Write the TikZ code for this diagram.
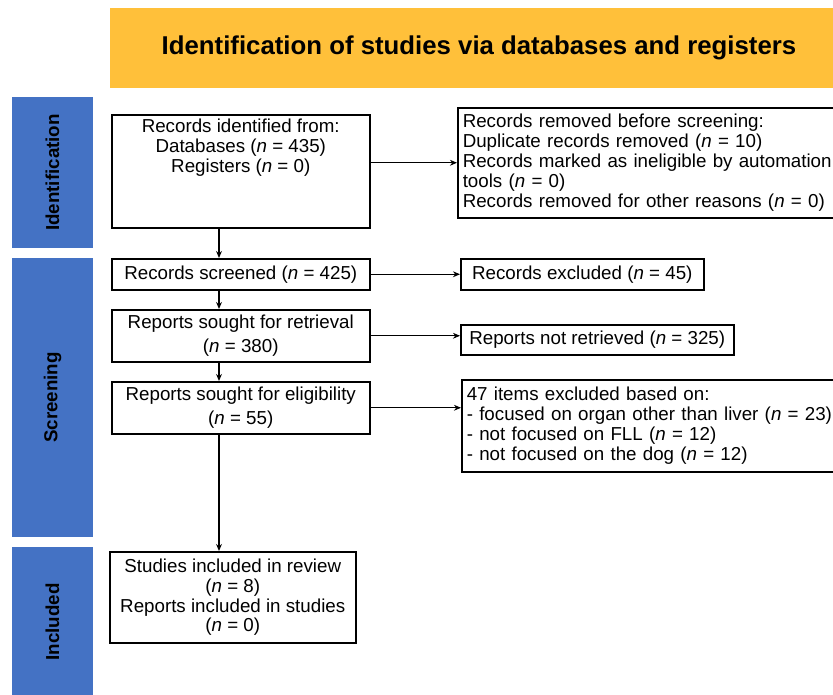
\documentclass[tikz,border=0pt]{standalone}
\usepackage{fontspec}
\setmainfont{Liberation Sans}
\usetikzlibrary{arrows.meta}
\definecolor{prismayellow}{RGB}{255, 192, 58}
\definecolor{prismablue}{RGB}{68, 114, 196}
\newlength\pxl
\setlength\pxl{0.03cm}

\begin{document}
\begin{tikzpicture}[
  x=\pxl, y=-\pxl,
  every node/.style={font=\fontsize{16}{17}\selectfont},
  box/.style={draw=black, line width=1.3pt, anchor=north west, align=center, inner sep=0pt},
  leftbox/.style={box, align=left, inner xsep=5\pxl},
  phase/.style={fill=prismablue, rotate=90, font=\fontsize{16}{17}\selectfont\bfseries, inner sep=0pt},
  banner/.style={fill=prismayellow, anchor=north west, inner sep=0pt},
  flow/.style={-{Stealth[length=6pt, width=5pt]}, line width=1pt}
]
\clip (0,0) rectangle (833,695);

% Header and phase bars
\node[banner, minimum width=735*\pxl, minimum height=80*\pxl] (head) at (110,8) {};
\node (title) at (479,48) {\fontsize{22}{24}\selectfont\bfseries Identification of studies via databases and registers};
\node[phase, minimum width=151*\pxl, minimum height=81*\pxl] (pid) at (52.5,172.5) {Identification};
\node[phase, minimum width=279*\pxl, minimum height=81*\pxl] (pscr) at (52.5,397.5) {Screening};
\node[phase, minimum width=150*\pxl, minimum height=81*\pxl] (pinc) at (52.5,622) {Included};

% Main column
\node[box, minimum width=258*\pxl, minimum height=113*\pxl] (ident) at (111,114)
  {Records identified from:\\Databases (\textit{n} = 435)\\Registers (\textit{n} = 0)\\[26pt]};
\node[box, minimum width=258*\pxl, minimum height=31*\pxl] (screen) at (111,258)
  {Records screened (\textit{n} = 425)};
\node[box, minimum width=258*\pxl, minimum height=52*\pxl] (retr) at (111,309)
  {Reports sought for retrieval\\[3pt](\textit{n} = 380)};
\node[box, minimum width=258*\pxl, minimum height=52*\pxl] (elig) at (111,381)
  {Reports sought for eligibility\\[3pt](\textit{n} = 55)};
\node[box, minimum width=246*\pxl, minimum height=91*\pxl] (incl) at (109,551)
  {Studies included in review\\(\textit{n} = 8)\\Reports included in studies\\(\textit{n} = 0)};

% Side column
\node[leftbox, text width=395*\pxl, minimum height=110*\pxl] (removed) at (457,107)
  {Records removed before screening:\\Duplicate records removed (\textit{n} = 10)\\Records marked as ineligible by automation\\tools (\textit{n} = 0)\\Records removed for other reasons (\textit{n} = 0)};
\node[box, minimum width=243*\pxl, minimum height=31*\pxl] (excl) at (460,258)
  {Records excluded (\textit{n} = 45)};
\node[box, minimum width=273*\pxl, minimum height=30*\pxl] (notretr) at (460,324)
  {Reports not retrieved (\textit{n} = 325)};
\node[leftbox, text width=391*\pxl, minimum height=92*\pxl] (items) at (461,379)
  {47 items excluded based on:\\- focused on organ other than liver (\textit{n} = 23)\\- not focused on FLL (\textit{n} = 12)\\- not focused on the dog (\textit{n} = 12)};

% Arrows
\coordinate (spine) at (219,0);
\draw[flow] (ident.south -| spine) -- (screen.north -| spine);
\draw[flow] (screen.south -| spine) -- (retr.north -| spine);
\draw[flow] (retr.south -| spine) -- (elig.north -| spine);
\draw[flow] (elig.south -| spine) -- (incl.north -| spine);
\draw[flow] (ident.east |- removed.west) -- (removed.west);
\draw[flow] (screen.east) -- (screen.east -| excl.west);
\draw[flow] (retr.east) -- (retr.east -| notretr.west);
\draw[flow] (elig.east) -- (elig.east -| items.west);
\end{tikzpicture}
\end{document}
